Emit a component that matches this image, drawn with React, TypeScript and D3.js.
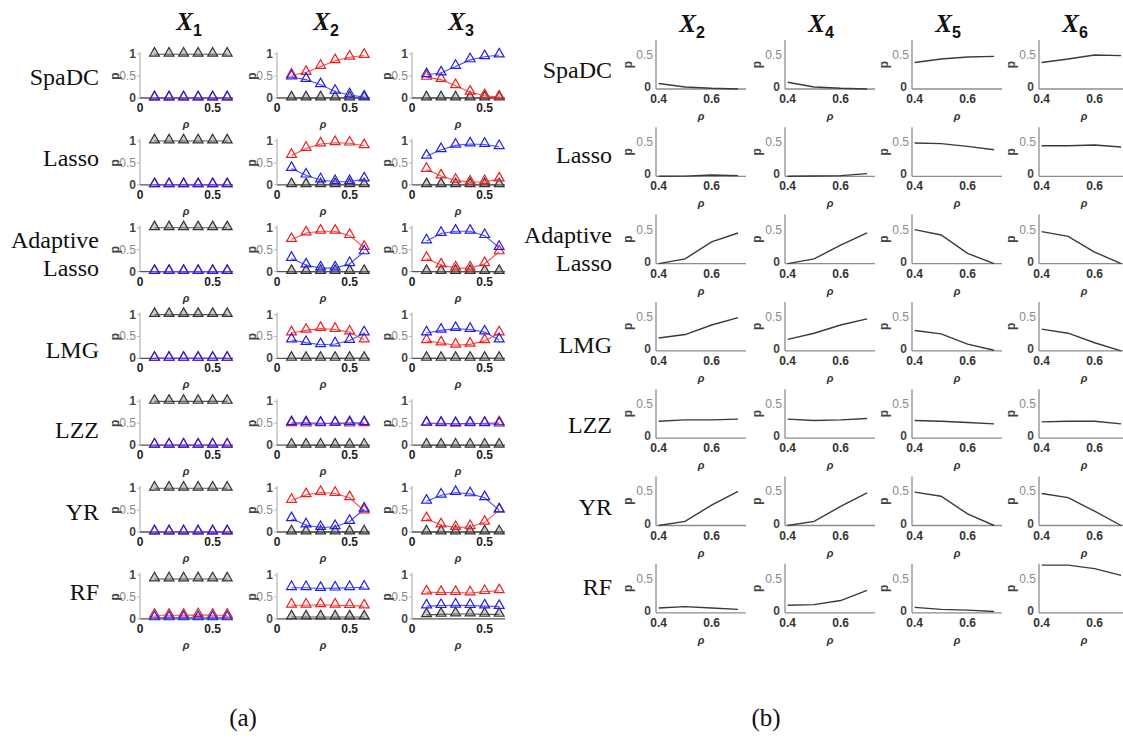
import React from "react";
import * as d3 from "d3";

// ---- data ----
const methods = ["SpaDC", "Lasso", "Adaptive Lasso", "LMG", "LZZ", "YR", "RF"];
const rhoA = [0.1, 0.2, 0.3, 0.4, 0.5, 0.6];
const rhoB = [0.4, 0.5, 0.6, 0.7];
const titlesA = ["1", "2", "3"];
const titlesB = ["2", "4", "5", "6"];
const xTicksA = [0, 0.5];
const yTicksA = [0, 0.5, 1];
const xTicksB = [0.4, 0.6];
const yTicksB = [0, 0.5];

// panel (a), X1 (rows follow methods)
const x1Black = [
  [1, 1, 1, 1, 1, 1], [1, 1, 1, 1, 1, 1], [1, 1, 1, 1, 1, 1], [1, 1, 1, 1, 1, 1],
  [1, 1, 1, 1, 1, 1], [1, 1, 1, 1, 1, 1], [0.91, 0.91, 0.91, 0.91, 0.91, 0.91],
];
const x1Red = [
  [0, 0, 0, 0, 0, 0], [0, 0, 0, 0, 0, 0], [0, 0, 0, 0, 0, 0], [0, 0, 0, 0, 0, 0],
  [0, 0, 0, 0, 0, 0], [0, 0, 0, 0, 0, 0], [0.08, 0.08, 0.08, 0.09, 0.08, 0.08],
];
const x1Blue = [
  [0, 0, 0, 0, 0, 0], [0, 0, 0, 0, 0, 0], [0, 0, 0, 0, 0, 0], [0, 0, 0, 0, 0, 0],
  [0, 0, 0, 0, 0, 0], [0, 0, 0, 0, 0, 0], [0.02, 0.02, 0.02, 0.02, 0.02, 0.02],
];
// panel (a), X2
const x2Black = [
  [0, 0, 0, 0, 0, 0], [0, 0, 0, 0, 0, 0], [0, 0, 0, 0, 0, 0], [0, 0, 0, 0, 0, 0],
  [0, 0, 0, 0, 0, 0], [0, 0, 0, 0, 0, 0], [0.04, 0.04, 0.04, 0.04, 0.04, 0.04],
];
const x2Red = [
  [0.52, 0.58, 0.72, 0.85, 0.93, 0.97],
  [0.67, 0.83, 0.93, 0.96, 0.95, 0.89],
  [0.73, 0.88, 0.92, 0.92, 0.82, 0.55],
  [0.58, 0.64, 0.68, 0.66, 0.6, 0.42],
  [0.49, 0.48, 0.49, 0.5, 0.48, 0.49],
  [0.72, 0.85, 0.9, 0.88, 0.78, 0.48],
  [0.31, 0.31, 0.32, 0.31, 0.3, 0.29],
];
const x2Blue = [
  [0.48, 0.42, 0.3, 0.15, 0.07, 0.02],
  [0.37, 0.22, 0.11, 0.07, 0.07, 0.13],
  [0.3, 0.15, 0.08, 0.08, 0.18, 0.45],
  [0.42, 0.36, 0.31, 0.33, 0.41, 0.58],
  [0.51, 0.51, 0.5, 0.5, 0.51, 0.51],
  [0.3, 0.16, 0.1, 0.12, 0.24, 0.52],
  [0.71, 0.71, 0.69, 0.7, 0.71, 0.72],
];
// panel (a), X3
const x3Black = [
  [0, 0, 0, 0, 0, 0], [0, 0, 0, 0, 0, 0], [0, 0, 0, 0, 0, 0], [0, 0, 0, 0, 0, 0],
  [0, 0, 0, 0, 0, 0], [0, 0, 0, 0, 0, 0], [0.09, 0.1, 0.11, 0.11, 0.1, 0.1],
];
const x3Red = [
  [0.47, 0.42, 0.28, 0.13, 0.05, 0.02],
  [0.35, 0.2, 0.1, 0.06, 0.07, 0.13],
  [0.3, 0.15, 0.08, 0.08, 0.18, 0.45],
  [0.4, 0.35, 0.3, 0.32, 0.4, 0.58],
  [0.5, 0.49, 0.48, 0.49, 0.5, 0.51],
  [0.3, 0.16, 0.1, 0.12, 0.22, 0.5],
  [0.61, 0.6, 0.6, 0.59, 0.62, 0.64],
];
const x3Blue = [
  [0.53, 0.57, 0.72, 0.87, 0.94, 0.98],
  [0.65, 0.8, 0.9, 0.93, 0.92, 0.87],
  [0.7, 0.87, 0.92, 0.92, 0.82, 0.55],
  [0.58, 0.64, 0.68, 0.66, 0.6, 0.42],
  [0.5, 0.5, 0.49, 0.5, 0.49, 0.48],
  [0.7, 0.84, 0.9, 0.87, 0.78, 0.5],
  [0.29, 0.3, 0.31, 0.3, 0.29, 0.28],
];

// panel (b)
const bX2 = [
  [0.08, 0.03, 0.01, 0], [0, 0.003, 0.02, 0.01], [0, 0.07, 0.32, 0.45],
  [0.19, 0.24, 0.38, 0.49], [0.25, 0.27, 0.27, 0.28], [0, 0.06, 0.3, 0.5],
  [0.07, 0.09, 0.07, 0.05],
];
const bX4 = [
  [0.1, 0.03, 0.01, 0], [0, 0.005, 0.01, 0.04], [0, 0.07, 0.27, 0.45],
  [0.17, 0.26, 0.38, 0.47], [0.28, 0.26, 0.27, 0.29], [0, 0.06, 0.28, 0.48],
  [0.11, 0.12, 0.18, 0.33],
];
const bX5 = [
  [0.39, 0.44, 0.47, 0.48], [0.49, 0.48, 0.44, 0.39], [0.5, 0.42, 0.15, 0],
  [0.3, 0.25, 0.1, 0.01], [0.26, 0.25, 0.23, 0.21], [0.49, 0.43, 0.17, 0],
  [0.08, 0.05, 0.04, 0.02],
];
const bX6 = [
  [0.39, 0.44, 0.5, 0.49], [0.45, 0.45, 0.46, 0.43], [0.47, 0.4, 0.17, 0],
  [0.32, 0.26, 0.12, 0], [0.24, 0.25, 0.25, 0.21], [0.47, 0.41, 0.21, 0],
  [0.7, 0.7, 0.65, 0.55],
];

// ---- layout ----
const W = 1123;
const H = 739;
const colsA = [140, 277, 412];
const baseA = (i: number) => 98 + i * 86.8;
const colsB = [656, 785, 912, 1039];
const baseB = (i: number) => 89 + i * 87.3;
const labelYA = [77, 158, 254, 350, 430, 512, 592];
const labelYB = [70, 155, 249, 345, 425, 507, 587];

const SANS = "Liberation Sans, Arial, sans-serif";
const SERIF = "Liberation Serif, Times New Roman, serif";
const tri = d3.symbol(d3.symbolTriangle, 42)();

const seriesA = [
  [x1Black, x1Red, x1Blue],
  [x2Black, x2Red, x2Blue],
  [x3Black, x3Red, x3Blue],
];
const seriesB = [bX2, bX4, bX5, bX6];
const colorsA = [
  { line: "#555", mark: "#333", fill: "rgba(110,110,110,0.35)" },
  { line: "#f25050", mark: "#f01e1e", fill: "none" },
  { line: "#5050f2", mark: "#1e1ef0", fill: "none" },
];

function SubA({ x0, base, rows }: { x0: number; base: number; rows: number[][] }) {
  const x = d3.scaleLinear().domain([0, 0.64]).range([x0, x0 + 93]);
  const y = d3.scaleLinear().domain([0, 1.05]).range([base, base - 46]);
  const line = d3
    .line<number>()
    .x((_, i) => x(rhoA[i]))
    .y((d) => y(d));
  return (
    <g>
      <line x1={x0} x2={x0} y1={y(0)} y2={y(1.05)} stroke="#b5b5b5" strokeWidth={1.2} />
      {yTicksA.map((t) => (
        <g key={t}>
          <line x1={x0 - 3} x2={x0} y1={y(t)} y2={y(t)} stroke="#bbb" />
          <text
            x={x0 - 4}
            y={y(t) + 4}
            textAnchor="end"
            fontSize={12}
            fontFamily={SANS}
            fontWeight={t === 0.5 ? 400 : 700}
            fill={t === 0.5 ? "#8a8a8a" : "#444"}
          >
            {t === 0.5 ? "0.5" : String(t)}
          </text>
        </g>
      ))}
      <text
        transform={`translate(${x0 - 21},${y(0.5)}) rotate(-90)`}
        textAnchor="middle"
        fontSize={12}
        fontFamily={SANS}
        fontWeight={700}
        fill="#444"
      >
        p
      </text>
      <line x1={x0} x2={x0 + 93} y1={base} y2={base} stroke="#555" strokeWidth={1.3} />
      {xTicksA.map((t) => (
        <text
          key={t}
          x={x(t)}
          y={base + 14}
          textAnchor="middle"
          fontSize={12}
          fontFamily={SANS}
          fontWeight={700}
          fill="#222"
        >
          {t === 0 ? "0" : "0.5"}
        </text>
      ))}
      <text
        x={x0 + 46}
        y={base + 30}
        textAnchor="middle"
        fontSize={11}
        fontStyle="italic"
        fontWeight={700}
        fontFamily={SANS}
        fill="#333"
      >
        ρ
      </text>
      {rows.map((vals, k) => (
        <g key={k}>
          <path d={line(vals) || ""} fill="none" stroke={colorsA[k].line} strokeWidth={1.1} />
          {vals.map((v, i) => (
            <path
              key={i}
              d={tri}
              transform={`translate(${x(rhoA[i])},${y(v) - 1})`}
              fill={colorsA[k].fill}
              stroke={colorsA[k].mark}
              strokeWidth={1.2}
            />
          ))}
        </g>
      ))}
    </g>
  );
}

function SubB({ x0, base, vals }: { x0: number; base: number; vals: number[] }) {
  const x = d3.scaleLinear().domain([0.39, 0.73]).range([x0, x0 + 90]);
  const y = d3.scaleLinear().domain([0, 0.72]).range([base, base - 49]);
  const line = d3
    .line<number>()
    .x((_, i) => x(rhoB[i]))
    .y((d) => y(d));
  return (
    <g>
      <line x1={x0} x2={x0} y1={y(0)} y2={y(0.72)} stroke="#8c8c8c" strokeWidth={1.3} />
      <line x1={x0} x2={x0 + 90} y1={base} y2={base} stroke="#8c8c8c" strokeWidth={1.3} />
      {yTicksB.map((t) => (
        <text
          key={t}
          x={t === 0 ? x0 - 5 : x0 - 3}
          y={t === 0 ? base + 2 : y(t) + 4}
          textAnchor="end"
          fontSize={12}
          fontFamily={SANS}
          fontWeight={t === 0 ? 700 : 400}
          fill={t === 0 ? "#444" : "#8a8a8a"}
        >
          {t === 0 ? "0" : "0.5"}
        </text>
      ))}
      <text
        transform={`translate(${x0 - 24},${y(0.36)}) rotate(-90)`}
        textAnchor="middle"
        fontSize={12}
        fontFamily={SANS}
        fontWeight={700}
        fill="#444"
      >
        p
      </text>
      {xTicksB.map((t) => (
        <text
          key={t}
          x={x(t)}
          y={base + 14}
          textAnchor="middle"
          fontSize={12}
          fontFamily={SANS}
          fontWeight={700}
          fill="#333"
        >
          {d3.format(".1f")(t)}
        </text>
      ))}
      <text
        x={x0 + 45}
        y={base + 31}
        textAnchor="middle"
        fontSize={11}
        fontStyle="italic"
        fontWeight={700}
        fontFamily={SANS}
        fill="#333"
      >
        ρ
      </text>
      <path d={line(vals) || ""} fill="none" stroke="#3a3a3a" strokeWidth={1.4} />
    </g>
  );
}

function RowLabel({ x, y, text }: { x: number; y: number; text: string }) {
  const parts = text.split(" ");
  return (
    <text textAnchor="end" fontSize={24} fontFamily={SERIF} fill="#111">
      {parts.map((p, i) => (
        <tspan key={i} x={x} y={y + 8 + (i - (parts.length - 1) / 2) * 28}>
          {p}
        </tspan>
      ))}
    </text>
  );
}

function Title({ x, y, sub }: { x: number; y: number; sub: string }) {
  return (
    <text x={x} y={y} textAnchor="middle" fontFamily={SERIF} fill="#111">
      <tspan fontSize={25} fontStyle="italic" fontWeight={700}>
        X
      </tspan>
      <tspan fontSize={16} fontWeight={700} fontFamily={SANS} dy={6}>
        {sub}
      </tspan>
    </text>
  );
}

export default function App() {
  return (
    <svg
      width={W}
      height={H}
      style={{ position: "absolute", left: 0, top: 0, background: "#fff" }}
    >
      {titlesA.map((t, c) => (
        <Title key={t} x={colsA[c] + 49} y={30} sub={t} />
      ))}
      {titlesB.map((t, c) => (
        <Title key={t} x={colsB[c] + 36} y={32} sub={t} />
      ))}
      {methods.map((m, r) => (
        <g key={m}>
          <RowLabel x={99} y={labelYA[r]} text={m} />
          <RowLabel x={612} y={labelYB[r]} text={m} />
          {colsA.map((x0, c) => (
            <SubA key={c} x0={x0} base={baseA(r)} rows={seriesA[c].map((s) => s[r])} />
          ))}
          {colsB.map((x0, c) => (
            <SubB key={c} x0={x0} base={baseB(r)} vals={seriesB[c][r]} />
          ))}
        </g>
      ))}
      <text x={243} y={726} textAnchor="middle" fontSize={25} fontFamily={SERIF} fill="#111">
        (a)
      </text>
      <text x={766} y={726} textAnchor="middle" fontSize={25} fontFamily={SERIF} fill="#111">
        (b)
      </text>
    </svg>
  );
}
